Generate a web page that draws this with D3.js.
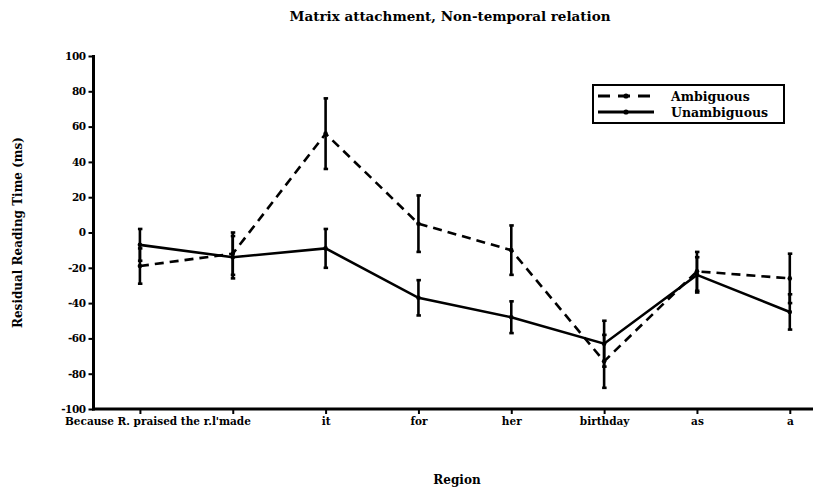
<!DOCTYPE html>
<html>
<head>
<meta charset="utf-8">
<script src="https://cdn.jsdelivr.net/npm/d3@7/dist/d3.min.js"></script>
<style>
  html, body { margin: 0; padding: 0; background: #fff; }
  svg { display: block; }
  text { font-family: "DejaVu Serif", "Liberation Serif", serif; font-weight: bold; fill: #000; }
</style>
</head>
<body>
<svg id="chart" width="835" height="491"></svg>
<script>
// Regions of the sentence, in reading order
const regions = ["Because R. praised the r.l", "'made", "it", "for", "her", "birthday", "as", "a"];
// Mean residual reading times (ms) and error bar half-widths
const ambiguous = [-19, -12, 56, 5, -10, -73, -22, -26];
const ambiguousErr = [10, 12, 20, 16, 14, 15, 11, 14];
const unambiguous = [-7, -14, -9, -37, -48, -63, -24, -45];
const unambiguousErr = [9, 12, 11, 10, 9, 13, 10, 10];
const yTicks = [-100, -80, -60, -40, -20, 0, 20, 40, 60, 80, 100];

const svg = d3.select("#chart");
const ink = "#000";

const x = d3.scaleLinear().domain([-0.5, 7.25]).range([93.5, 813]);
const y = d3.scaleLinear().domain([-100, 100]).range([409, 56]);

// Title
svg.append("text")
  .attr("x", 450).attr("y", 21)
  .attr("text-anchor", "middle")
  .style("font-size", "13.5px")
  .text("Matrix attachment, Non-temporal relation");

// Y axis
const yAxis = svg.append("g")
  .attr("transform", `translate(${x.range()[0]},0)`)
  .call(d3.axisLeft(y).tickValues(yTicks).tickSize(5).tickPadding(3).tickFormat(d => String(d)));
yAxis.select(".domain").remove();
yAxis.selectAll(".tick line").attr("stroke", ink).attr("stroke-width", 2);
yAxis.selectAll(".tick text").style("font-size", "10.5px").style("font-family", "DejaVu Serif, serif").style("font-weight", "bold").style("letter-spacing", "-0.5px").attr("fill", ink);
svg.append("line")
  .attr("x1", x.range()[0]).attr("x2", x.range()[0])
  .attr("y1", y(100) - 1).attr("y2", y(-100) + 1.5)
  .attr("stroke", ink).attr("stroke-width", 3);

// X axis
const xAxis = svg.append("g")
  .attr("transform", `translate(0,${y(-100)})`)
  .call(d3.axisBottom(x).tickValues(d3.range(regions.length)).tickSize(5).tickPadding(4).tickFormat(i => regions[i]));
xAxis.select(".domain").remove();
xAxis.selectAll(".tick line").attr("stroke", ink).attr("stroke-width", 2);
xAxis.selectAll(".tick text").style("font-size", "10.5px").style("font-family", "DejaVu Serif, serif").style("font-weight", "bold").attr("fill", ink);
svg.append("line")
  .attr("x1", x.range()[0] - 1.5).attr("x2", x.range()[1])
  .attr("y1", y(-100)).attr("y2", y(-100))
  .attr("stroke", ink).attr("stroke-width", 3);

// Axis titles
svg.append("text")
  .attr("transform", `translate(22,${y(0)}) rotate(-90)`)
  .attr("text-anchor", "middle")
  .style("font-size", "12px")
  .text("Residual Reading Time (ms)");
svg.append("text")
  .attr("x", 457).attr("y", 484)
  .attr("text-anchor", "middle")
  .style("font-size", "12px")
  .text("Region");

const line = d3.line().x((d, i) => x(i)).y(d => y(d));

const series = [
  { name: "Ambiguous", values: ambiguous, err: ambiguousErr, dash: "9,6" },
  { name: "Unambiguous", values: unambiguous, err: unambiguousErr, dash: null }
];

series.forEach(s => {
  svg.append("path")
    .datum(s.values)
    .attr("d", line)
    .attr("fill", "none")
    .attr("stroke", ink)
    .attr("stroke-width", 2.6)
    .attr("stroke-dasharray", s.dash);
});

// Error bars
series.forEach(s => {
  const g = svg.append("g").attr("stroke", ink).attr("stroke-width", 2.6);
  s.values.forEach((v, i) => {
    const cx = x(i), top = y(v + s.err[i]), bot = y(v - s.err[i]);
    g.append("line").attr("x1", cx).attr("x2", cx).attr("y1", top).attr("y2", bot);
    g.append("line").attr("x1", cx - 2).attr("x2", cx + 2.5).attr("y1", top).attr("y2", top);
    g.append("line").attr("x1", cx - 2).attr("x2", cx + 2.5).attr("y1", bot).attr("y2", bot);
  });
  svg.append("g").selectAll("circle")
    .data(s.values).join("circle")
    .attr("cx", (d, i) => x(i)).attr("cy", d => y(d))
    .attr("r", 2.3).attr("fill", ink);
});

// Legend
const lg = svg.append("g");
lg.append("rect")
  .attr("x", 593).attr("y", 85).attr("width", 191).attr("height", 38)
  .attr("fill", "#fff").attr("stroke", ink).attr("stroke-width", 2);
series.forEach((s, k) => {
  const ly = 96 + k * 16;
  lg.append("line")
    .attr("x1", 598).attr("x2", 654).attr("y1", ly).attr("y2", ly)
    .attr("stroke", ink).attr("stroke-width", 3)
    .attr("stroke-dasharray", s.dash ? "12,8" : null);
  lg.append("circle").attr("cx", 626).attr("cy", ly).attr("r", 2.6).attr("fill", ink);
  lg.append("text")
    .attr("x", 671).attr("y", ly + 5)
    .style("font-size", "12.5px")
    .style("font-weight", "600")
    .text(s.name);
});
</script>
</body>
</html>
